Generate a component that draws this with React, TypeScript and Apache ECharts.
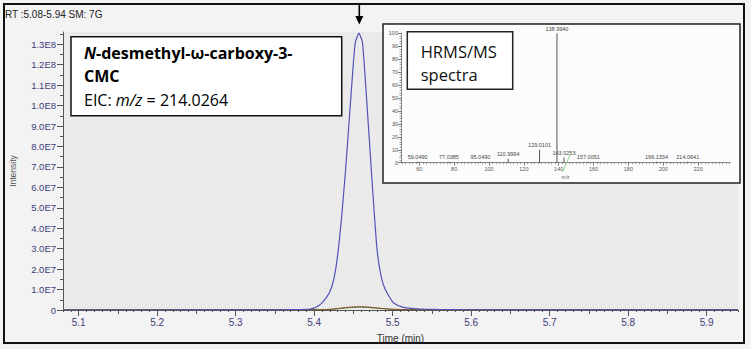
import React, { useEffect, useRef } from "react";
import * as echarts from "echarts";

// ---- Data ----
// Extracted ion chromatogram, m/z 214.0264 (intensity in counts)
const eicTime = [5.08, 5.2, 5.3, 5.36, 5.38, 5.39, 5.395, 5.4, 5.405, 5.41, 5.415, 5.42, 5.425, 5.43, 5.435, 5.44, 5.445, 5.45, 5.4525, 5.457, 5.4615, 5.465, 5.47, 5.475, 5.48, 5.485, 5.49, 5.495, 5.5, 5.505, 5.51, 5.515, 5.52, 5.53, 5.54, 5.56, 5.6, 5.7, 5.94];
const eicIntensityE7 = [0, 0, 0.005, 0.01, 0.02, 0.03, 0.05, 0.09, 0.19, 0.35, 0.58, 0.89, 1.5, 2.7, 4.56, 6.84, 9.47, 12.1, 13.1, 13.55, 13.1, 11.36, 8.5, 5.6, 3.0, 1.7, 1.05, 0.7, 0.4, 0.26, 0.18, 0.12, 0.09, 0.06, 0.04, 0.025, 0.012, 0.005, 0.002];
// Minor traces near baseline
const traceTime = [5.08, 5.4, 5.42, 5.43, 5.44, 5.45, 5.46, 5.47, 5.48, 5.49, 5.5, 5.52, 5.94];
const greenIntensityE7 = [0.02, 0.02, 0.03, 0.06, 0.1, 0.13, 0.14, 0.12, 0.09, 0.06, 0.035, 0.02, 0.02];
const brownIntensityE7 = [0.0, 0.0, 0.03, 0.07, 0.12, 0.15, 0.16, 0.14, 0.1, 0.06, 0.03, 0.01, 0.0];

const xTickLabels = [5.1, 5.2, 5.3, 5.4, 5.5, 5.6, 5.7, 5.8, 5.9];
const yTickLabels = [0, 1e7, 2e7, 3e7, 4e7, 5e7, 6e7, 7e7, 8e7, 9e7, 1e8, 1.1e8, 1.2e8, 1.3e8];

// HRMS/MS spectrum
const msMz = [59.049, 77.0385, 95.049, 110.9994, 129.0101, 138.994, 143.0253, 157.0051, 196.1334, 214.0641];
const msRelAbundance = [0.8, 0.8, 0.8, 3, 10, 100, 4, 0.8, 0.8, 0.8];
const msXTicks = [60, 80, 100, 120, 140, 160, 180, 200, 220];
const msYTicks = [0, 10, 20, 30, 40, 50, 60, 70, 80, 90, 100];

const range = (a: number, b: number, s: number) => {
  const out: number[] = [];
  for (let i = 0; a + i * s <= b + 1e-9; i++) out.push(+(a + i * s).toFixed(4));
  return out;
};

const fmtSci = (v: number) => {
  if (v === 0) return "0";
  const e = Math.floor(Math.log10(v) + 1e-9);
  return (v / Math.pow(10, e)).toFixed(1) + "E" + e;
};

const AX = "Liberation Sans, Arial, sans-serif";
const LBL = "#40407a";
const BOXFONT = "Open Sans";

export default function App() {
  const ref = useRef<HTMLDivElement>(null);
  useEffect(() => {
    if (!ref.current) return;
    const chart = echarts.init(ref.current, null, { renderer: "svg" });
    const XMIN = 5.08, XMAX = 5.94, YMAX = 1.36e8;
    const baseX = {
      type: "value", gridIndex: 0, min: XMIN, max: XMAX, position: "bottom",
      splitLine: { show: false }, axisLine: { show: false }, axisLabel: { show: false },
    };
    const baseY = {
      type: "value", gridIndex: 0, min: 0, max: YMAX, position: "left",
      splitLine: { show: false }, axisLine: { show: false }, axisLabel: { show: false },
    };
    const option: any = {
      animation: false,
      backgroundColor: "#f3f3f3",
      grid: [
        { left: 60, right: 13, top: 32, bottom: 39, show: true, backgroundColor: "#eaeaea", borderWidth: 0 },
        { left: 401, right: 21, top: 33.3, bottom: 186.3, show: false },
      ],
      xAxis: [
        {
          ...baseX,
          axisLine: { show: true, onZero: false, lineStyle: { color: "#555", width: 1 } },
          axisTick: { show: true, customValues: xTickLabels, length: 6, lineStyle: { color: "#555" } },
          axisLabel: { show: true, customValues: xTickLabels, formatter: (v: number) => v.toFixed(1), color: LBL, fontSize: 10, fontFamily: AX, margin: 7 },
          name: "Time (min)", nameLocation: "middle", nameGap: 23,
          nameTextStyle: { color: "#333", fontSize: 10, fontFamily: AX },
        },
        { ...baseX, axisTick: { show: true, customValues: range(5.1, 5.9, 0.05), length: 4, lineStyle: { color: "#555" } } },
        { ...baseX, axisTick: { show: true, customValues: range(5.08, 5.94, 0.01), length: 2, lineStyle: { color: "#555" } } },
        {
          type: "value", gridIndex: 1, min: 49.5, max: 238.3, position: "bottom", z: 4,
          splitLine: { show: false },
          axisLine: { show: true, onZero: false, lineStyle: { color: "#666", width: 0.8 } },
          axisTick: { show: true, customValues: msXTicks, length: 3, lineStyle: { color: "#666", width: 0.8 } },
          axisLabel: { show: true, customValues: msXTicks, color: "#555", fontSize: 5.5, fontFamily: AX, margin: 3 },
          name: "m/z", nameLocation: "middle", nameGap: 12,
          nameTextStyle: { color: "#666", fontSize: 5, fontFamily: AX },
        },
        {
          type: "value", gridIndex: 1, min: 49.5, max: 238.3, position: "bottom", z: 4,
          splitLine: { show: false }, axisLine: { show: false }, axisLabel: { show: false },
          axisTick: { show: true, customValues: range(50, 238, 2), length: 1.5, lineStyle: { color: "#666", width: 0.6 } },
        },
      ],
      yAxis: [
        {
          ...baseY,
          axisLine: { show: true, onZero: false, lineStyle: { color: "#555", width: 1 } },
          axisTick: { show: true, customValues: yTickLabels, length: 6, lineStyle: { color: "#555" } },
          axisLabel: { show: true, customValues: yTickLabels, formatter: fmtSci, color: LBL, fontSize: 9.5, fontFamily: AX, margin: 7 },
          name: "Intensity", nameLocation: "middle", nameGap: 46, nameRotate: 90,
          nameTextStyle: { color: "#555", fontSize: 8.5, fontFamily: AX },
        },
        { ...baseY, axisTick: { show: true, customValues: range(5e6, 1.35e8, 1e7), length: 3, lineStyle: { color: "#555" } } },
        {
          type: "value", gridIndex: 1, min: 0, max: 100, position: "left", z: 4,
          splitLine: { show: false },
          axisLine: { show: true, onZero: false, lineStyle: { color: "#666", width: 0.8 } },
          axisTick: { show: true, customValues: msYTicks, length: 3, lineStyle: { color: "#666", width: 0.8 } },
          axisLabel: { show: true, customValues: msYTicks, color: "#555", fontSize: 5.5, fontFamily: AX, margin: 3 },
        },
        {
          type: "value", gridIndex: 1, min: 0, max: 100, position: "left", z: 4,
          splitLine: { show: false }, axisLine: { show: false }, axisLabel: { show: false },
          axisTick: { show: true, customValues: range(0, 100, 2), length: 1.5, lineStyle: { color: "#666", width: 0.6 } },
        },
      ],
      series: [
        {
          type: "line", xAxisIndex: 0, yAxisIndex: 0, showSymbol: false, smooth: 0.2, z: 3,
          lineStyle: { color: "#3a8a3a", width: 1 },
          data: traceTime.map((t, i) => [t, greenIntensityE7[i] * 1e7]),
        },
        {
          type: "line", xAxisIndex: 0, yAxisIndex: 0, showSymbol: false, smooth: 0.2, z: 3,
          lineStyle: { color: "#8a4a2a", width: 1 },
          data: traceTime.map((t, i) => [t, brownIntensityE7[i] * 1e7]),
        },
        {
          type: "line", xAxisIndex: 0, yAxisIndex: 0, showSymbol: false, smooth: 0.15, z: 3,
          lineStyle: { color: "#5252b8", width: 1.2 },
          data: eicTime.map((t, i) => [t, eicIntensityE7[i] * 1e7]),
        },
        {
          type: "bar", xAxisIndex: 3, yAxisIndex: 2, barWidth: 1, z: 5,
          itemStyle: { color: "#555" },
          label: {
            show: true, position: "top", distance: 1.5, fontSize: 5.5, fontFamily: AX, color: "#444",
            formatter: (p: any) => p.value[0].toFixed(4),
          },
          data: msMz.map((m, i) => [m, msRelAbundance[i]]),
        },
      ],
      graphic: [
        { type: "rect", z: 1, shape: { x: 4, y: 4, width: 740, height: 339 }, style: { fill: "none", stroke: "#111", lineWidth: 2 } },
        { type: "text", z: 1, x: 5, y: 14, style: { text: "RT :5.08-5.94 SM: 7G", fontSize: 10, fontFamily: AX, fill: "#222", verticalAlign: "middle" } },
        // arrow over the peak apex
        { type: "line", z: 6, shape: { x1: 359.3, y1: 5, x2: 359.3, y2: 18 }, style: { stroke: "#000", lineWidth: 1.6 } },
        { type: "polygon", z: 6, shape: { points: [[355.3, 16], [363.3, 16], [359.3, 24.5]] }, style: { fill: "#000" } },
        // compound label box
        { type: "rect", z: 6, shape: { x: 71, y: 36.7, width: 270.7, height: 79 }, style: { fill: "#fff", stroke: "#111", lineWidth: 1.5 } },
        {
          type: "text", z: 7, x: 84, y: 52.7,
          style: {
            text: "{bi|N}{b|-desmethyl-ω-carboxy-3-}", verticalAlign: "middle",
            rich: {
              bi: { fontSize: 16, lineHeight: 18, fontWeight: "bold", fontStyle: "italic", fontFamily: BOXFONT, fill: "#000" },
              b: { fontSize: 16, lineHeight: 18, fontWeight: "bold", fontFamily: BOXFONT, fill: "#000" },
            },
          },
        },
        { type: "text", z: 7, x: 84, y: 76, style: { text: "CMC", fontSize: 16, lineHeight: 18, fontWeight: "bold", fontFamily: BOXFONT, fill: "#000", verticalAlign: "middle" } },
        {
          type: "text", z: 7, x: 84, y: 100,
          style: {
            text: "{n|EIC: }{i|m/z}{n| = 214.0264}", verticalAlign: "middle",
            rich: {
              n: { fontSize: 16, lineHeight: 18, fontFamily: BOXFONT, fill: "#000" },
              i: { fontSize: 16, lineHeight: 18, fontStyle: "italic", fontFamily: BOXFONT, fill: "#000" },
            },
          },
        },
        // spectrum inset frame
        { type: "rect", z: 1, shape: { x: 383, y: 24, width: 357, height: 159 }, style: { fill: "#fcfcfc", stroke: "#222", lineWidth: 1.5 } },
        { type: "line", z: 6, shape: { x1: 562.7, y1: 171.7, x2: 570.7, y2: 153.3 }, style: { stroke: "#8fd08f", lineWidth: 1 } },
        { type: "rect", z: 6, shape: { x: 407.3, y: 31.7, width: 105.4, height: 57.6 }, style: { fill: "#fff", stroke: "#222", lineWidth: 1.5 } },
        { type: "text", z: 7, x: 420.7, y: 51.5, style: { text: "HRMS/MS", fontSize: 16.5, lineHeight: 17, fontFamily: BOXFONT, fill: "#111", verticalAlign: "middle" } },
        { type: "text", z: 7, x: 420.7, y: 74, style: { text: "spectra", fontSize: 16.5, lineHeight: 17, fontFamily: BOXFONT, fill: "#111", verticalAlign: "middle" } },
      ],
    };
    chart.setOption(option);
    return () => chart.dispose();
  }, []);
  return <div ref={ref} style={{ position: "fixed", left: 0, top: 0, width: 751, height: 349 }} />;
}
